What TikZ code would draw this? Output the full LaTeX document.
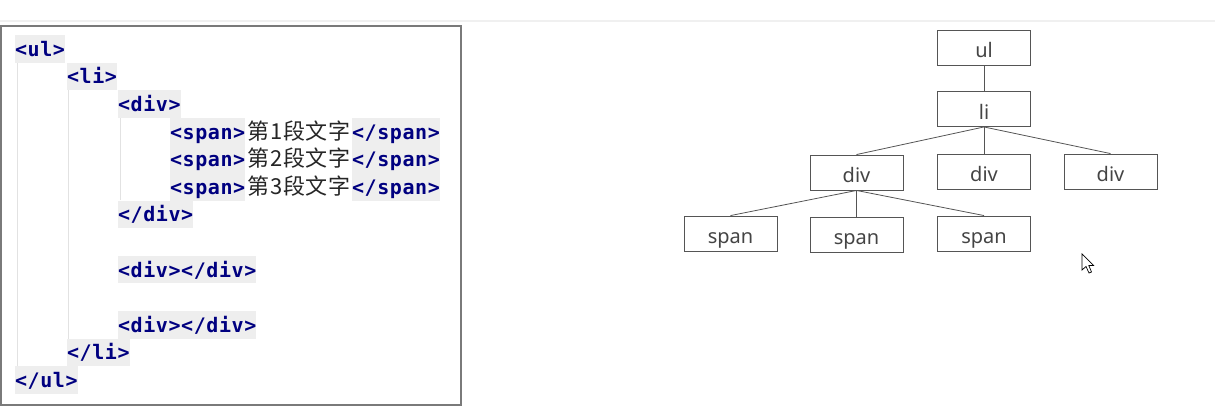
\documentclass[tikz,border=0pt]{standalone}
\usepackage{fontspec}
\newfontfamily\codefont[LetterSpace=3]{DejaVu Sans Mono}
\newfontfamily\cjk[LetterSpace=3]{Noto Sans CJK SC}
\newfontfamily\treefont{Noto Sans}
\definecolor{navy}{HTML}{000080}
\definecolor{hl}{HTML}{EEEEEE}
\definecolor{guide}{HTML}{E2E2E2}
\definecolor{boxline}{HTML}{555555}
\definecolor{frame}{HTML}{7A7A7A}
\definecolor{txt}{HTML}{444444}
\tikzset{
  tag/.style={fill=hl, inner sep=0pt, outer sep=0pt, anchor=west, minimum height=27.6pt,
    text=navy, font=\codefont\bfseries\fontsize{20}{20}\selectfont, text height=15pt, text depth=0pt},
  cn/.style={inner sep=0pt, outer sep=0pt, anchor=center, minimum height=27.6pt,
    text=black!85, font=\cjk\fontsize{22}{22}\selectfont, text height=15pt, text depth=0pt},
  treebox/.style={draw=boxline, line width=0.9pt, minimum width=93pt, minimum height=35pt,
    inner sep=0pt, text=txt, font=\treefont\fontsize{20}{20}\selectfont, text height=20pt, text depth=0pt},
  edge/.style={draw=boxline, line width=0.8pt},
  guideline/.style={draw=guide, line width=1pt}
}
\begin{document}
\begin{tikzpicture}[x=1pt,y=-1pt]
\useasboundingbox (0,0) rectangle (1215,416);
% top separator
\draw[draw=black!6, line width=2pt] (0,20.5) -- (1215,20.5);
% code frame
\draw[draw=frame, line width=1.6pt] (0.8,25.8) rectangle (460.8,405);
% indentation guides
\draw[guideline] (17,62) -- (17,367);
\draw[guideline] (68,90) -- (68,339);
\draw[guideline] (120,117) -- (120,200);
% code lines (centre y = 48.8 + 27.6 k)
\node[tag] (ul1) at (15,48.8) {<ul>};
\node[tag] (li1) at (67,76.4) {<li>};
\node[tag] (d1o) at (118,104) {<div>};
\node[tag] (s1o) at (170,131.6) {<span>};
\node[cn]  (t1)  at (299,131.6) {第1段文字};
\node[tag] (s1c) at (352,131.6) {</span>};
\node[tag] (s2o) at (170,159.2) {<span>};
\node[cn]  (t2)  at (299,159.2) {第2段文字};
\node[tag] (s2c) at (352,159.2) {</span>};
\node[tag] (s3o) at (170,186.8) {<span>};
\node[cn]  (t3)  at (299,186.8) {第3段文字};
\node[tag] (s3c) at (352,186.8) {</span>};
\node[tag] (d1c) at (118,214.4) {</div>};
\node[tag] (d2)  at (118,269.6) {<div></div>};
\node[tag] (d3)  at (118,324.8) {<div></div>};
\node[tag] (li2) at (67,352.4) {</li>};
\node[tag] (ul2) at (15,380) {</ul>};
% tree
\node[treebox] (tul)  at (984,47.5)  {ul};
\node[treebox] (tli)  at (984,109)   {li};
\node[treebox] (tdA)  at (856.5,172.5) {div};
\node[treebox] (tdB)  at (984,171.5) {div};
\node[treebox] (tdC)  at (1110.5,171.5) {div};
\node[treebox] (tsA)  at (730.5,233.5) {span};
\node[treebox] (tsB)  at (856.5,234.5) {span};
\node[treebox] (tsC)  at (984,233.5) {span};
\draw[edge] (tul.south) -- (tli.north);
\draw[edge] (tli.south) -- (tdA.north);
\draw[edge] (tli.south) -- (tdB.north);
\draw[edge] (tli.south) -- (tdC.north);
\draw[edge] (tdA.south) -- (tsA.north);
\draw[edge] (tdA.south) -- (tsB.north);
\draw[edge] (tdA.south) -- (tsC.north);
% mouse cursor
\draw[fill=white, draw=black, line width=0.7pt, line join=miter]
  (1082,254) -- (1082,270) -- (1086,266.5) -- (1089,273) -- (1091.5,272) -- (1088.8,265.5) -- (1093.5,265.5) -- cycle;
\end{tikzpicture}
\end{document}
